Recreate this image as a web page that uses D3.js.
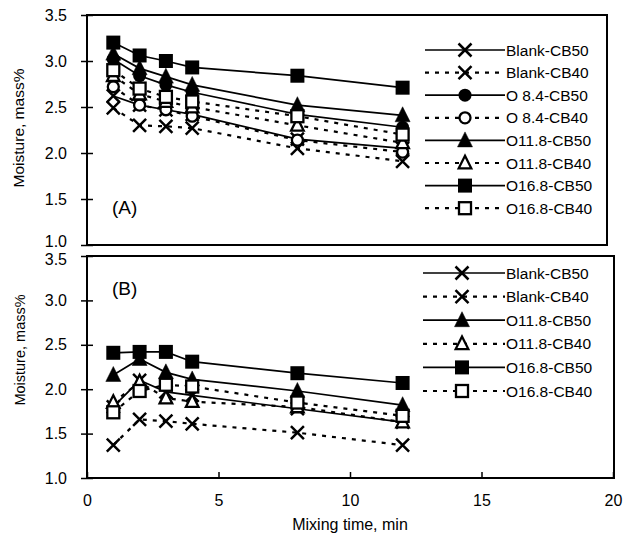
<!DOCTYPE html>
<html><head><meta charset="utf-8">
<script src="https://cdn.jsdelivr.net/npm/d3@7"></script>
<style>body{margin:0;background:#fff}svg{display:block}text{font-family:"Liberation Sans",Arial,sans-serif;fill:#000}</style>
</head><body><svg id="c" width="636" height="541"></svg>
<script>
const times = [1, 2, 3, 4, 8, 12];
const xTicks = [0, 5, 10, 15, 20];
const yTicks = [1.0, 1.5, 2.0, 2.5, 3.0, 3.5];

const namesA = ["Blank-CB50","Blank-CB40","O 8.4-CB50","O 8.4-CB40","O11.8-CB50","O11.8-CB40","O16.8-CB50","O16.8-CB40"];
const blankCB50_A = [2.62, 2.52, 2.47, 2.42, 2.15, 2.05];
const blankCB40_A = [2.49, 2.30, 2.29, 2.27, 2.05, 1.91];
const o84CB50_A   = [3.02, 2.84, 2.74, 2.66, 2.42, 2.28];
const o84CB40_A   = [2.72, 2.52, 2.47, 2.40, 2.14, 2.01];
const o118CB50_A  = [3.08, 2.92, 2.83, 2.74, 2.52, 2.41];
const o118CB40_A  = [2.84, 2.64, 2.56, 2.50, 2.30, 2.11];
const o168CB50_A  = [3.20, 3.06, 3.00, 2.93, 2.84, 2.71];
const o168CB40_A  = [2.90, 2.70, 2.61, 2.56, 2.40, 2.20];

const namesB = ["Blank-CB50","Blank-CB40","O11.8-CB50","O11.8-CB40","O16.8-CB50","O16.8-CB40"];
const blankCB50_B = [1.80, 2.10, 1.97, 1.93, 1.78, 1.63];
const blankCB40_B = [1.37, 1.66, 1.64, 1.61, 1.51, 1.37];
const o118CB50_B  = [2.16, 2.34, 2.19, 2.11, 1.98, 1.82];
const o118CB40_B  = [1.85, 2.08, 1.90, 1.86, 1.80, 1.63];
const o168CB50_B  = [2.41, 2.42, 2.42, 2.31, 2.18, 2.07];
const o168CB40_B  = [1.74, 1.98, 2.05, 2.03, 1.85, 1.70];

const styleOf = {
  "Blank-CB50": {m:"x", f:true, d:false},
  "Blank-CB40": {m:"x", f:true, d:true},
  "O 8.4-CB50": {m:"circle", f:true, d:false},
  "O 8.4-CB40": {m:"circle", f:false, d:true},
  "O11.8-CB50": {m:"tri", f:true, d:false},
  "O11.8-CB40": {m:"tri", f:false, d:true},
  "O16.8-CB50": {m:"square", f:true, d:false},
  "O16.8-CB40": {m:"square", f:false, d:true}
};

const svg = d3.select("#c");
const x = d3.scaleLinear().domain([0, 20]).range([87, 613]);

function marker(g, cx, cy, st) {
  const stroke = "#000", sw = 2.3;
  if (st.m === "x") {
    const s = 6.5;
    g.append("path").attr("d", `M${cx-s},${cy-s}L${cx+s},${cy+s}M${cx-s},${cy+s}L${cx+s},${cy-s}`)
      .attr("stroke", stroke).attr("stroke-width", 2.5).attr("fill", "none");
  } else if (st.m === "circle") {
    g.append("circle").attr("cx", cx).attr("cy", cy).attr("r", st.f ? 6.5 : 5.5)
      .attr("fill", st.f ? "#000" : "#fff").attr("stroke", stroke).attr("stroke-width", st.f ? 0 : sw);
  } else if (st.m === "tri") {
    const s = st.f ? 7.5 : 6.3;
    g.append("path").attr("d", `M${cx},${cy-s-1}L${cx+s},${cy+s-1}L${cx-s},${cy+s-1}Z`)
      .attr("fill", st.f ? "#000" : "#fff").attr("stroke", stroke).attr("stroke-width", st.f ? 0.5 : sw).attr("stroke-linejoin","miter");
  } else {
    const s = st.f ? 7 : 6;
    g.append("rect").attr("x", cx-s).attr("y", cy-s).attr("width", 2*s).attr("height", 2*s)
      .attr("fill", st.f ? "#000" : "#fff").attr("stroke", stroke).attr("stroke-width", st.f ? 0 : sw);
  }
}

function panel(cfg) {
  const y = d3.scaleLinear().domain([1.0, 3.5]).range([cfg.bottom, cfg.top]);
  const g = svg.append("g");
  g.append("rect").attr("x", 87).attr("y", cfg.top).attr("width", cfg.right - 87).attr("height", cfg.bottom - cfg.top)
    .attr("fill", "none").attr("stroke", "#000").attr("stroke-width", 2);
  const ya = g.append("g").attr("transform", "translate(87,0)")
    .call(d3.axisLeft(y).tickValues(yTicks).tickFormat(d3.format(".1f")).tickSize(6).tickSizeOuter(0));
  ya.select(".domain").remove();
  ya.selectAll(".tick line").attr("x1", 6).attr("stroke-width", 1.5);
  ya.selectAll(".tick text").attr("x", -20).attr("font-size", 16)
    .attr("font-family", '"Liberation Sans",Arial,sans-serif')
    .attr("dy", d => (cfg.edgeShift && d === cfg.edgeVal) ? (0.32 + cfg.edgeShift / 16) + "em" : "0.32em");
  g.append("text").attr("transform", `translate(${cfg.ylx},${cfg.yly}) rotate(-90)`)
    .attr("text-anchor", "middle").attr("font-size", cfg.ylfs).text("Moisture, mass%");
  g.append("text").attr("x", cfg.tagx).attr("y", cfg.tagy).attr("font-size", 19).text(cfg.tag);

  const line = d3.line().x((d, i) => x(times[i])).y(d => y(d));
  cfg.series.forEach((vals, k) => {
    const st = styleOf[cfg.names[k]];
    g.append("path").datum(vals).attr("d", line).attr("fill", "none").attr("stroke", "#000")
      .attr("stroke-width", st.d ? 2.2 : 1.7).attr("stroke-dasharray", st.d ? "4,6" : null);
  });
  cfg.series.forEach((vals, k) => {
    const st = styleOf[cfg.names[k]];
    vals.forEach((v, i) => marker(g, x(times[i]), y(v), st));
  });
  const lg = g.append("g");
  cfg.names.forEach((n, k) => {
    const st = styleOf[n];
    const ly = cfg.legY + k * cfg.legStep;
    lg.append("line").attr("x1", cfg.legX1).attr("x2", 505).attr("y1", ly).attr("y2", ly)
      .attr("stroke", "#000").attr("stroke-width", st.d ? 2.2 : 1.7).attr("stroke-dasharray", st.d ? "4,6" : null);
    marker(lg, cfg.legM, ly, st);
    lg.append("text").attr("x", 506).attr("y", ly + 5.5).attr("font-size", 15.5).text(n);
  });
  return y;
}

panel({top: 15, bottom: 245, right: 607, tag: "(A)", tagx: 112, tagy: 214, ylx: 24, yly: 128, ylfs: 15.5,
  edgeVal: 1.0, edgeShift: -4,
  names: namesA, series: [blankCB50_A, blankCB40_A, o84CB50_A, o84CB40_A, o118CB50_A, o118CB40_A, o168CB50_A, o168CB40_A],
  legY: 50, legStep: 22.6, legX1: 425, legM: 465});

panel({top: 256, bottom: 478, right: 614, tag: "(B)", tagx: 112, tagy: 295, ylx: 25, yly: 350, ylfs: 14.5,
  edgeVal: 3.5, edgeShift: 3,
  names: namesB, series: [blankCB50_B, blankCB40_B, o118CB50_B, o118CB40_B, o168CB50_B, o168CB40_B],
  legY: 273, legStep: 23.6, legX1: 423, legM: 462});

const xa = svg.append("g").attr("transform", "translate(0,478)")
  .call(d3.axisBottom(x).tickValues(xTicks).tickFormat(d3.format("d")).tickSize(6).tickSizeOuter(0));
xa.select(".domain").remove();
xa.selectAll(".tick line").attr("y2", -6).attr("stroke-width", 1.5);
xa.selectAll(".tick text").attr("y", 17).attr("font-size", 16).attr("font-family", '"Liberation Sans",Arial,sans-serif');
svg.append("text").attr("x", 350).attr("y", 530).attr("text-anchor", "middle").attr("font-size", 16).text("Mixing time, min");
</script></body></html>
